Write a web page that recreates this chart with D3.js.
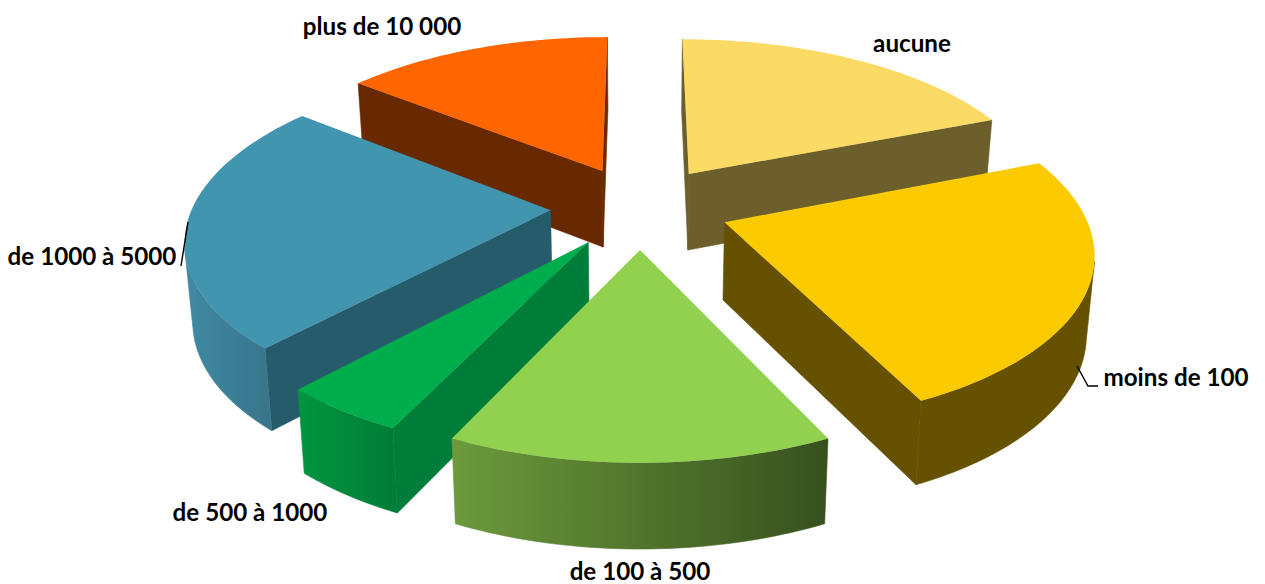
<!DOCTYPE html>
<html>
<head>
<meta charset="utf-8">
<script src="https://cdn.jsdelivr.net/npm/d3@7"></script>
<style>
  html, body { margin: 0; background: #fff; }
  text { font-family: Lato, "Open Sans", sans-serif; font-weight: 700; font-size: 24.2px; fill: #000; }
</style>
</head>
<body>
<svg id="chart" width="1265" height="584"></svg>
<script>
// chart values (percent of the pie)
const categories = ["aucune", "moins de 100", "de 100 à 500", "de 500 à 1000", "de 1000 à 5000", "plus de 10 000"];
const shares = [19, 23.9, 14.2, 4.7, 23.9, 14.3];

const topColors = ["#FBDB65", "#FBCB00", "#92D050", "#00AD4D", "#4295AF", "#FF6600"];
const wallColors = ["#6C5F2C", "#665100", "#4F7030", "#007D38", "#265B6C", "#682900"];
const arcWallLeft = ["#6C5F2C", "#665100", "#6C9A3C", "#00963F", "#3F8AA3", "#682900"];
const arcWallRight = ["#6C5F2C", "#665100", "#37501E", "#007D38", "#39768C", "#682900"];

// label anchors in pixels: centre x, baseline y
const labelX = [912, 1176, 640, 250, 92, 382];
const labelY = [52, 386, 580, 521, 265, 35];

// back to front
const drawOrder = [5, 0, 4, 1, 3, 2];

const svg = d3.select("#chart");
const defs = svg.append("defs");

// ground plane: unit pie, x to the right, y towards the viewer
const xScale = d3.scaleLinear().domain([-1, 1]).range([640 - 358, 640 + 358]);
const yScale = d3.scaleLinear().domain([-1, 1]).range([207 - 165, 207 + 165]);
const persp = 0.155;
const explode = 0.25;

function project(x, y) {
  let w = 1 / (1 - persp * y);
  return [xScale(x * w), yScale(y * w)];
}

// same point on the underside of the slice
function lower(p) {
  return [640 + (p[0] - 640) * 0.982, p[1] + 70 + 0.035 * p[1]];
}

let line = d3.line();
let slices = d3.pie().sort(null).value(d => d)(shares);

function drawSlice(i) {
  let s = slices[i];
  let mid = (s.startAngle + s.endAngle) / 2;
  let cx = explode * Math.sin(mid);
  let cy = -explode * Math.cos(mid);

  let angles = d3.range(0, 41).map(k => s.startAngle + (s.endAngle - s.startAngle) * k / 40);
  let rim = angles.map(a => project(cx + Math.sin(a), cy - Math.cos(a)));
  let apex = project(cx, cy);

  // does a face with this outward normal look at the camera?
  let facing = (px, py, nx, ny) => (0 - px) * nx + (1 / persp - py) * ny > 0;

  let front = angles
    .filter(a => facing(cx + Math.sin(a), cy - Math.cos(a), Math.sin(a), -Math.cos(a)))
    .map(a => project(cx + Math.sin(a), cy - Math.cos(a)));

  let g = svg.append("g").attr("class", "slice");

  // the two straight walls
  let a0 = s.startAngle, a1 = s.endAngle;
  if (facing(cx, cy, -Math.cos(a0), -Math.sin(a0))) {
    wall(g, apex, rim[0], i);
  }
  if (facing(cx, cy, Math.cos(a1), Math.sin(a1))) {
    wall(g, apex, rim[rim.length - 1], i);
  }

  // curved wall
  if (front.length > 1) {
    let grad = defs.append("linearGradient")
      .attr("id", "rim" + i)
      .attr("gradientUnits", "userSpaceOnUse")
      .attr("x1", d3.min(front, p => p[0])).attr("x2", d3.max(front, p => p[0]))
      .attr("y1", 0).attr("y2", 0);
    grad.append("stop").attr("offset", 0).attr("stop-color", arcWallLeft[i]);
    grad.append("stop").attr("offset", 1).attr("stop-color", arcWallRight[i]);
    g.append("path")
      .attr("d", line(front.concat(front.map(lower).reverse())) + "Z")
      .attr("fill", "url(#rim" + i + ")")
      .attr("stroke", "url(#rim" + i + ")")
      .attr("stroke-width", 0.6);
  }

  // top face
  g.append("path")
    .attr("d", line([apex].concat(rim)) + "Z")
    .attr("fill", topColors[i]);
}

function wall(g, apex, p, i) {
  g.append("path")
    .attr("d", line([apex, p, lower(p), lower(apex)]) + "Z")
    .attr("fill", wallColors[i])
    .attr("stroke", wallColors[i])
    .attr("stroke-width", 0.6);
}

drawOrder.forEach(drawSlice);

// leader lines
const leaders = [
  [[188, 222], [181, 266]],
  [[1077, 366], [1088, 386], [1098, 386]]
];
svg.selectAll("path.leader").data(leaders).enter().append("path")
  .attr("class", "leader")
  .attr("d", d => line(d))
  .attr("fill", "none")
  .attr("stroke", "#000")
  .attr("stroke-width", 1.4);

svg.selectAll("text.label").data(categories).enter().append("text")
  .attr("class", "label")
  .attr("text-anchor", "middle")
  .attr("x", (d, i) => labelX[i])
  .attr("y", (d, i) => labelY[i])
  .text(d => d);
</script>
</body>
</html>
